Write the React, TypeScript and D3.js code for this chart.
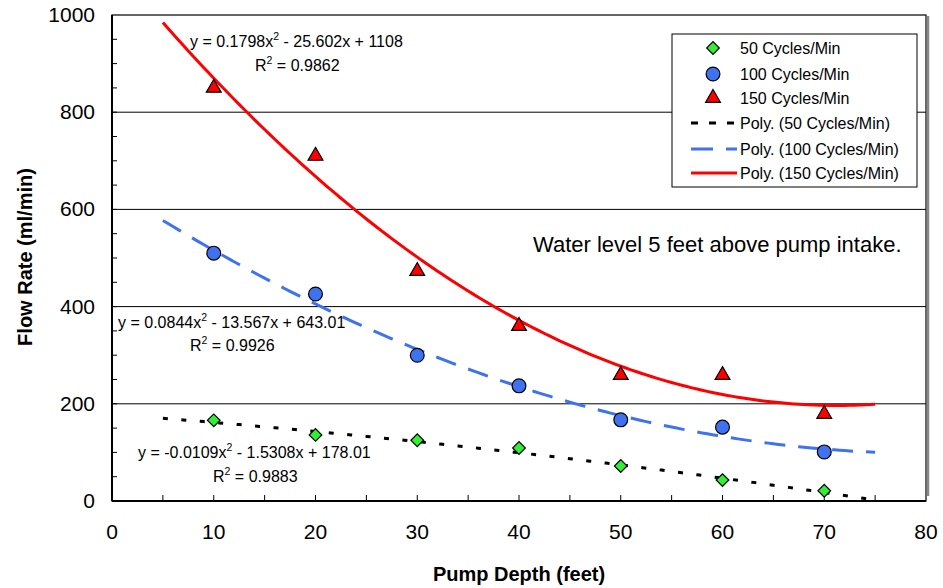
import { useEffect, useRef } from "react";
import * as d3 from "d3";

// pump depth (feet)
const depths = [10, 20, 30, 40, 50, 60, 70];
// flow rate (ml/min) per pumping rate
const flow50 = [166, 136, 125, 109, 72, 43, 21];
const flow100 = [510, 426, 300, 237, 167, 152, 101];
const flow150 = [852, 712, 475, 362, 261, 261, 181];

// polynomial trendline coefficients [a, b, c] for a*x^2 + b*x + c
const coef50 = [-0.0109, -1.5308, 178.01];
const coef100 = [0.0844, -13.567, 643.01];
const coef150 = [0.1798, -25.602, 1108];

const yTicks = [0, 200, 400, 600, 800, 1000];
const xTicks = [0, 10, 20, 30, 40, 50, 60, 70, 80];

const legendLabels = [
  "50 Cycles/Min",
  "100 Cycles/Min",
  "150 Cycles/Min",
  "Poly. (50 Cycles/Min)",
  "Poly. (100 Cycles/Min)",
  "Poly. (150 Cycles/Min)",
];

const FONT = "'Liberation Sans', Arial, sans-serif";
const GREEN = "#33ee33";
const BLUE = "#3f72ee";
const RED = "#ff0000";

const App = () => {
  const ref = useRef<SVGSVGElement | null>(null);

  useEffect(() => {
    const svg = d3.select(ref.current);
    svg.selectAll("*").remove();

    const left = 112, right = 926, top = 15, bottom = 501;
    const x = d3.scaleLinear().domain([0, 80]).range([left, right]);
    const y = d3.scaleLinear().domain([0, 1000]).range([bottom, top]);

    // gridlines
    svg.append("g")
      .selectAll("line")
      .data(yTicks.filter((d) => d > 0 && d < 1000))
      .enter()
      .append("line")
      .attr("x1", left).attr("x2", right)
      .attr("y1", (d) => y(d)).attr("y2", (d) => y(d))
      .attr("stroke", "#000").attr("stroke-width", 1);

    // plot frame
    svg.append("rect")
      .attr("x", left).attr("y", top)
      .attr("width", right - left).attr("height", bottom - top)
      .attr("fill", "none").attr("stroke", "#000").attr("stroke-width", 1.2);
    svg.append("line")
      .attr("x1", right + 2).attr("x2", right + 2)
      .attr("y1", top + 1).attr("y2", bottom - 5)
      .attr("stroke", "#888").attr("stroke-width", 2.5);
    // bolder left and bottom axis lines
    svg.append("line").attr("x1", left).attr("x2", left).attr("y1", top).attr("y2", bottom)
      .attr("stroke", "#000").attr("stroke-width", 2);
    svg.append("line").attr("x1", left).attr("x2", right).attr("y1", bottom).attr("y2", bottom)
      .attr("stroke", "#000").attr("stroke-width", 2);

    // minor ticks (inward)
    svg.append("g")
      .selectAll("line")
      .data(d3.range(50, 1000, 50))
      .enter()
      .append("line")
      .attr("x1", left).attr("x2", left + 5)
      .attr("y1", (d) => y(d)).attr("y2", (d) => y(d))
      .attr("stroke", "#000");
    svg.append("g")
      .selectAll("line")
      .data(d3.range(5, 80, 5))
      .enter()
      .append("line")
      .attr("x1", (d) => x(d)).attr("x2", (d) => x(d))
      .attr("y1", bottom).attr("y2", bottom - 6)
      .attr("stroke", "#000");

    // tick labels
    svg.append("g")
      .selectAll("text")
      .data(yTicks)
      .enter()
      .append("text")
      .attr("x", 95).attr("y", (d) => y(d) + 7)
      .attr("text-anchor", "end")
      .attr("font-family", FONT).attr("font-size", 21)
      .text((d) => d);
    svg.append("g")
      .selectAll("text")
      .data(xTicks)
      .enter()
      .append("text")
      .attr("x", (d) => x(d)).attr("y", 539)
      .attr("text-anchor", "middle")
      .attr("font-family", FONT).attr("font-size", 21)
      .text((d) => d);

    // axis titles
    svg.append("text")
      .attr("x", 519).attr("y", 581)
      .attr("text-anchor", "middle")
      .attr("font-family", FONT).attr("font-size", 20).attr("font-weight", "bold")
      .text("Pump Depth (feet)");
    svg.append("text")
      .attr("transform", `translate(32,257) rotate(-90)`)
      .attr("text-anchor", "middle")
      .attr("font-family", FONT).attr("font-size", 20).attr("font-weight", "bold")
      .text("Flow Rate (ml/min)");

    // trendlines
    const poly = (c: number[]) => (t: number) => c[0] * t * t + c[1] * t + c[2];
    const xs = d3.range(5, 75.001, 0.5);
    const line = d3.line<number>().x((t) => x(t));
    const trends = [
      { c: coef50, color: "#000", dash: "5,13.5", w: 3 },
      { c: coef100, color: BLUE, dash: "21,13", w: 3 },
      { c: coef150, color: RED, dash: null, w: 3 },
    ];
    trends.forEach((tr) => {
      const f = poly(tr.c);
      svg.append("path")
        .attr("d", line.y((t) => y(f(t)))(xs))
        .attr("fill", "none")
        .attr("stroke", tr.color)
        .attr("stroke-width", tr.w)
        .attr("stroke-dasharray", tr.dash);
    });

    // markers
    const diamond = d3.symbol().type(d3.symbolSquare).size(80);
    const circle = d3.symbol().type(d3.symbolCircle).size(150);
    const triangle = d3.symbol().type(d3.symbolTriangle).size(95);
    const series = [
      { vals: flow50, sym: diamond, fill: GREEN, dy: 0, rot: 45 },
      { vals: flow100, sym: circle, fill: BLUE, dy: 0, rot: 0 },
      { vals: flow150, sym: triangle, fill: RED, dy: 1, rot: 0 },
    ];
    series.forEach((s) => {
      svg.append("g")
        .selectAll("path")
        .data(depths)
        .enter()
        .append("path")
        .attr("d", s.sym())
        .attr("transform", (d, i) => `translate(${x(d)},${y(s.vals[i]) + s.dy}) rotate(${s.rot})`)
        .attr("fill", s.fill)
        .attr("stroke", "#000").attr("stroke-width", 1.2);
    });

    // equation labels
    const eq = (tx: number, ty: number, c: number[]) => {
      const t = svg.append("text")
        .attr("x", tx).attr("y", ty)
        .attr("font-family", FONT).attr("font-size", 16);
      t.append("tspan").text(`y = ${c[0]}x`);
      t.append("tspan").attr("dy", -7).attr("font-size", 10.5).text("2");
      t.append("tspan").attr("dy", 7)
        .text(` - ${Math.abs(c[1])}x + ${c[2]}`);
    };
    const r2 = (tx: number, ty: number, v: string) => {
      const t = svg.append("text")
        .attr("x", tx).attr("y", ty)
        .attr("font-family", FONT).attr("font-size", 16);
      t.append("tspan").text("R");
      t.append("tspan").attr("dy", -7).attr("font-size", 10.5).text("2");
      t.append("tspan").attr("dy", 7).text(` = ${v}`);
    };
    eq(190, 47, coef150);
    r2(255, 71, "0.9862");
    eq(118, 328, coef100);
    r2(190, 351, "0.9926");
    eq(138, 458, coef50);
    r2(213, 482, "0.9883");

    svg.append("text")
      .attr("x", 533).attr("y", 252)
      .attr("font-family", FONT).attr("font-size", 22)
      .text("Water level 5 feet above pump intake.");

    // legend
    const lg = svg.append("g");
    lg.append("rect")
      .attr("x", 672).attr("y", 34).attr("width", 245).attr("height", 153)
      .attr("fill", "#fff").attr("stroke", "#000").attr("stroke-width", 1);
    const rowY = [48, 74, 98, 123, 149, 173];
    const legSyms = [diamond, circle, triangle];
    const legFills = [GREEN, BLUE, RED];
    const legRot = [45, 0, 0];
    legendLabels.forEach((lab, i) => {
      const ry = rowY[i];
      if (i < 3) {
        lg.append("path")
          .attr("d", legSyms[i]())
          .attr("transform", `translate(713,${ry}) rotate(${legRot[i]})`)
          .attr("fill", legFills[i])
          .attr("stroke", "#000").attr("stroke-width", 1.2);
      } else {
        const tr = trends[i - 3];
        const dash = i === 3 ? "7,11" : i === 4 ? "22,13" : null;
        lg.append("line")
          .attr("x1", 691).attr("x2", 737)
          .attr("y1", ry).attr("y2", ry)
          .attr("stroke", tr.color).attr("stroke-width", 3)
          .attr("stroke-dasharray", dash);
      }
      lg.append("text")
        .attr("x", 740).attr("y", ry + 6)
        .attr("font-family", FONT).attr("font-size", 16)
        .text(lab);
    });
  }, []);

  return (
    <svg
      ref={ref}
      width={943}
      height={588}
      style={{ position: "absolute", left: 0, top: 0, background: "#fff" }}
    />
  );
};

export default App;
